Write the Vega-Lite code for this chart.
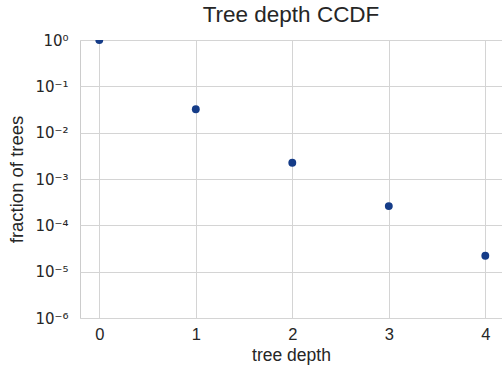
{
  "$schema": "https://vega.github.io/schema/vega-lite/v6.json",
  "autosize": {"type": "none"},
  "width": 422,
  "height": 278,
  "padding": {"left": 80, "top": 40, "right": 0, "bottom": 51},
  "background": "white",
  "title": {"text": "Tree depth CCDF", "fontSize": 22.5, "font": "Liberation Sans", "fontWeight": "normal", "color": "#262626", "offset": 7, "anchor": "middle"},
  "config": {
    "view": {"stroke": "#cccccc", "strokeWidth": 1},
    "axis": {"labelFont": "Liberation Sans", "titleFont": "Liberation Sans", "labelFontSize": 16.5, "titleFontSize": 17.5, "labelColor": "#262626", "titleColor": "#262626", "titleFontWeight": "normal", "gridColor": "#d4d4d4", "gridWidth": 1, "domain": false, "ticks": false}
  },
  "data": {"values": [
    {"depth": 0, "fraction": 1.0},
    {"depth": 1, "fraction": 0.032},
    {"depth": 2, "fraction": 0.00224},
    {"depth": 3, "fraction": 0.00026},
    {"depth": 4, "fraction": 0.000022}
  ]},
  "mark": {"type": "point", "filled": true, "shape": "circle", "size": 62, "color": "#153c88", "opacity": 1, "clip": true},
  "encoding": {
    "x": {"field": "depth", "type": "quantitative", "title": "tree depth",
      "scale": {"domain": [-0.2, 4.173], "nice": false, "zero": false},
      "axis": {"values": [0, 1, 2, 3, 4], "labelPadding": 8, "titlePadding": 4, "format": "d"}},
    "y": {"field": "fraction", "type": "quantitative", "title": "fraction of trees",
      "scale": {"type": "log", "domain": [0.000001, 1], "nice": false},
      "axis": {"values": [0.000001, 0.00001, 0.0001, 0.001, 0.01, 0.1, 1], "labelPadding": 12, "titlePadding": 8, "titleFontSize": 18.5,
        "labelFont": "DejaVu Sans", "labelFontSize": 15,
        "labelExpr": "['10⁰', '10⁻¹', '10⁻²', '10⁻³', '10⁻⁴', '10⁻⁵', '10⁻⁶'][round(-log(datum.value)/LN10)]"}}
  }
}
